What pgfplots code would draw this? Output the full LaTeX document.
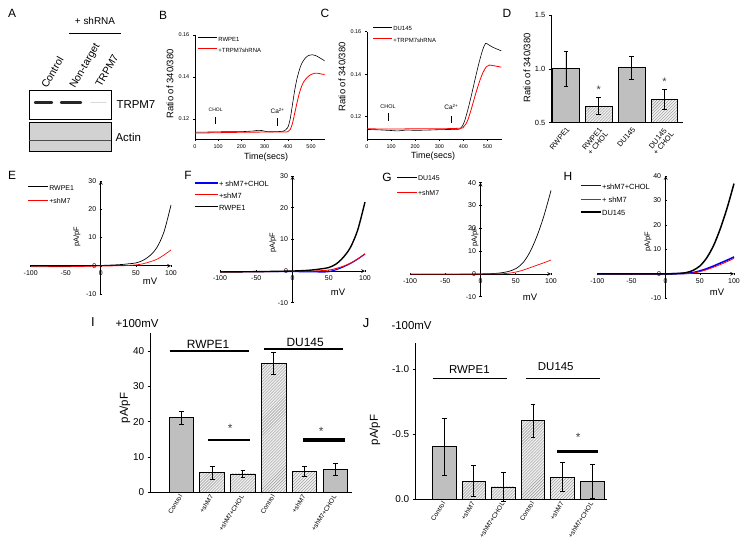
\documentclass[border=0pt]{standalone}
\usepackage{fontspec}
\setmainfont{Liberation Sans}
\usepackage{pgfplots}
\pgfplotsset{compat=1.18}
\usetikzlibrary{patterns}
\newcommand\fs[1]{\fontsize{#1}{#1}\selectfont}
\pgfplotsset{
 base/.style={scale only axis, /pgf/number format/assume math mode=true, tick align=outside,
   major tick length=2.2bp, tick style={black, line width=0.6bp}, axis line style={-, line width=0.7bp},
   clip=false, anchor=south west},
 gp/.style={base, axis lines*=left},
 iv/.style={base, axis lines=middle, hide obscured x ticks=false, hide obscured y ticks=false,
   xmin=-100, xmax=100, xtick={-100,-50,0,50,100}, ymin=-10, tick label style={font=\fs{7}}},
 leg/.style n args={4}{legend style={at={(#1,#2)}, anchor=north west, draw=none, fill=none,
   inner sep=0pt, outer sep=0pt, row sep=#4, font=\fs{#3},
   nodes={inner sep=0.6bp, text height=0.72em, text depth=0pt}}, legend cell align=left},
 limg/.style={legend image code/.code={\draw[##1] (0bp,0bp) -- (#1bp,0bp);}},
 sbar/.style={ybar, bar width=0.8, bar shift=0pt, draw=black, line width=0.8bp, fill=gray!50,
   error bars/y dir=both, error bars/y explicit,
   error bars/error bar style={line width=0.9bp, black},
   error bars/error mark options={rotate=90, mark size=2.4bp, line width=0.9bp, black}},
 hbar/.style={sbar, fill=gray!12, postaction={pattern=north east lines, pattern color=gray!85}},
}
\begin{document}
\begin{tikzpicture}
\useasboundingbox (0,0) rectangle (750bp,-557bp);
\begin{scope}[x=1bp,y=-1bp]
% panel letters
\node[font=\fs{12}] at (12,13) {A};
\node[font=\fs{12}] at (163,15) {B};
\node[font=\fs{12}] at (325,13) {C};
\node[font=\fs{12}] at (507,13) {D};
\node[font=\fs{12}] at (12,175) {E};
\node[font=\fs{12}] at (188,175) {F};
\node[font=\fs{12}] at (387,177) {G};
\node[font=\fs{12}] at (568,176) {H};
\node[font=\fs{13}] at (93,322) {I};
\node[font=\fs{13}] at (366,323) {J};
% panel A (blot)
\node[font=\fs{10}] at (95,21) {+ shRNA};
\draw[line width=0.8bp] (69,33.3) -- (120.7,33.3);
\node[font=\fs{10.5}, rotate=60, anchor=base west, inner sep=0pt] at (47,89) {Control};
\node[font=\fs{10.5}, rotate=60, anchor=base west, inner sep=0pt] at (75,89) {Non-target};
\node[font=\fs{10.5}, rotate=60, anchor=base west, inner sep=0pt] at (101,88) {TRPM7};
\draw[line width=0.9bp, fill=white] (29,90.7) rectangle (111,119);
\draw[line width=2.4bp, line cap=round, black!85] (35,102.5) -- (52,102.5);
\draw[line width=2.4bp, line cap=round, black!85] (61,102.3) -- (81,102.3);
\draw[line width=1.5bp, line cap=round, black!15] (91,102.5) -- (106,102.5);
\draw[line width=0.9bp, fill=gray!35] (29,122.3) rectangle (111,151);
\draw[line width=1.5bp, black!70] (29,140.7) -- (111,140.7);
\node[font=\fs{11.5}, anchor=west] at (113,105) {TRPM7};
\node[font=\fs{11.5}, anchor=west] at (112,137.5) {Actin};
% axis titles
\node[font=\fs{9.5}, rotate=90] at (170,84) {Ratio of 340/380};
\node[font=\fs{9}] at (266,157) {Time(secs)};
\node[font=\fs{9.5}, rotate=90] at (342,77) {Ratio of 340/380};
\node[font=\fs{9}] at (433,156) {Time(secs)};
\node[font=\fs{9.5}, rotate=90] at (527,68) {Ratio of 340/380};
\node[font=\fs{9.5}] at (150,281) {mV};
\node[font=\fs{7.5}, rotate=90] at (77,237) {pA/pF};
\node[font=\fs{9.5}] at (338,292) {mV};
\node[font=\fs{7.5}, rotate=90] at (273,243) {pA/pF};
\node[font=\fs{9.5}] at (530,297) {mV};
\node[font=\fs{7.5}, rotate=90] at (475,237) {pA/pF};
\node[font=\fs{9.5}] at (717,292) {mV};
\node[font=\fs{7.5}, rotate=90] at (648,242) {pA/pF};
\node[font=\fs{11.5}, anchor=west] at (112,324) {+100mV};
\node[font=\fs{11.5}, rotate=90] at (125,408) {pA/pF};
\node[font=\fs{11.5}, anchor=west] at (388,326) {-100mV};
\node[font=\fs{11.5}, rotate=90] at (375,430) {pA/pF};
\end{scope}

% ---------------- B
\begin{axis}[gp, at={(195bp,-139bp)}, width=130bp, height=104bp,
  xmin=0, xmax=560, ymin=0.1105, ymax=0.16, xtick={0,100,200,300,400,500}, ytick={0.12,0.14,0.16},
  yticklabel style={/pgf/number format/.cd, fixed, fixed zerofill, precision=2},
  tick label style={font=\fs{5.5}}, leg={0.023}{1.017}{6}{2.8bp}, limg=19]
\addplot[black, line width=0.6bp, smooth] coordinates {(0,0.1138)(50,0.1138)(100,0.1139)(150,0.114)(200,0.114)(250,0.1143)(270,0.1146)(290,0.1145)(310,0.114)(350,0.114)(380,0.1142)(390,0.1148)(400,0.116)(410,0.12)(420,0.127)(430,0.134)(440,0.1395)(450,0.1435)(460,0.1465)(475,0.149)(490,0.1503)(505,0.1506)(520,0.1502)(535,0.1493)(550,0.1483)(558,0.1477)};
\addlegendentry{RWPE1}
\addplot[red, line width=0.8bp, smooth] coordinates {(0,0.1133)(100,0.1135)(200,0.1137)(300,0.1138)(380,0.1138)(400,0.114)(410,0.115)(420,0.118)(430,0.123)(440,0.128)(450,0.1325)(460,0.1358)(470,0.138)(485,0.14)(500,0.1412)(515,0.1418)(530,0.1418)(545,0.1414)(558,0.1412)};
\addlegendentry{+TRPM7shRNA}
\draw[line width=0.6bp] (axis cs:89,0.1211) -- (axis cs:89,0.1176);
\node[font=\fs{5}] at (axis cs:89,0.1243) {CHOL};
\draw[line width=0.6bp] (axis cs:356,0.1205) -- (axis cs:356,0.1167);
\node[font=\fs{6.5}] at (axis cs:356,0.1238) {Ca\textsuperscript{2+}};
\end{axis}

% ---------------- C
\begin{axis}[gp, at={(367bp,-139bp)}, width=135bp, height=107.3bp,
  xmin=0, xmax=560, ymin=0.1095, ymax=0.16, xtick={0,100,200,300,400,500}, ytick={0.12,0.14,0.16},
  yticklabel style={/pgf/number format/.cd, fixed, fixed zerofill, precision=2},
  tick label style={font=\fs{5.5}}, leg={0.044}{1.079}{6}{2.8bp}, limg=19]
\addplot[black, line width=0.6bp, smooth] coordinates {(0,0.114)(50,0.1138)(100,0.1135)(130,0.1133)(160,0.1137)(200,0.1136)(250,0.1137)(300,0.1139)(350,0.114)(385,0.1142)(395,0.1155)(405,0.118)(420,0.124)(435,0.131)(450,0.1385)(465,0.1455)(480,0.1515)(492,0.1545)(505,0.1538)(520,0.1528)(540,0.1518)(557,0.151)};
\addlegendentry{DU145}
\addplot[red, line width=0.8bp, smooth] coordinates {(0,0.1143)(100,0.1142)(200,0.1143)(300,0.1143)(390,0.1146)(400,0.1152)(410,0.1165)(420,0.119)(435,0.1245)(450,0.1305)(465,0.136)(480,0.1405)(495,0.1435)(508,0.1443)(520,0.1441)(540,0.1437)(557,0.1433)};
\addlegendentry{+TRPM7shRNA}
\draw[line width=0.6bp] (axis cs:87.5,0.1217) -- (axis cs:87.5,0.118);
\node[font=\fs{5.5}] at (axis cs:87.5,0.1247) {CHOL};
\draw[line width=0.6bp] (axis cs:350,0.1203) -- (axis cs:350,0.117);
\node[font=\fs{6.5}] at (axis cs:350,0.1245) {Ca\textsuperscript{2+}};
\end{axis}

% ---------------- D
\begin{axis}[gp, clip=true, at={(551bp,-122.7bp)}, width=132bp, height=107.7bp,
  xmin=-0.457, xmax=3.567, ymin=0.5, ymax=1.5, ytick={0.5,1.0,1.5},
  yticklabel style={/pgf/number format/.cd, fixed, fixed zerofill, precision=1},
  tick label style={font=\fs{7.5}}, xtick={0,1,2,3},
  xticklabels={RWPE1,{RWPE1\\+ CHOL},DU145,{DU145\\+ CHOL}},
  xticklabel style={rotate=50, anchor=north east, align=center, font=\fs{7.5}, inner sep=1bp},
  xtick style={draw=none}]
\addplot[sbar, bar width=0.82] coordinates {(0,1.0) +- (0,0.16)};
\addplot[hbar, bar width=0.82] coordinates {(1,0.655) +- (0,0.075)};
\addplot[sbar, bar width=0.82] coordinates {(2,1.01) +- (0,0.105)};
\addplot[hbar, bar width=0.82] coordinates {(3,0.715) +- (0,0.09)};
\node[font=\fs{11}, text=black!75] at (axis cs:1,0.81) {*};
\node[font=\fs{11}, text=black!75] at (axis cs:3,0.88) {*};
\end{axis}

% ---------------- E
\begin{axis}[iv, at={(30.7bp,-294bp)}, width=140.3bp, height=113bp, ymax=30, ytick={-10,0,10,20,30},
  leg={-0.019}{0.988}{7}{5bp}, limg=20]
\addplot[black, line width=0.7bp, smooth] coordinates {(-100,-0.3)(-75,-0.3)(-50,-0.25)(-25,-0.15)(0,0.1)(20,0.3)(30,0.45)(40,0.7)(50,1.0)(60,1.9)(70,3.6)(80,6.5)(90,12)(100,21.5)};
\addlegendentry{RWPE1}
\addplot[red, line width=0.7bp, smooth] coordinates {(-100,-0.4)(-50,-0.35)(0,-0.1)(30,0.0)(50,0.3)(60,0.7)(70,1.4)(80,2.3)(90,3.8)(100,5.6)};
\addlegendentry{+shM7}
\end{axis}

% ---------------- F
\begin{axis}[iv, at={(220bp,-302.7bp)}, width=145bp, height=126.7bp, ymax=30, ytick={-10,0,10,20,30},
  leg={-0.179}{0.978}{7.5}{3.4bp}, limg=23]
\addplot[blue, line width=1.1bp, smooth] coordinates {(-100,-0.2)(0,-0.2)(40,-0.3)(50,-0.2)(60,0.4)(70,1.3)(80,2.4)(90,3.8)(100,5.4)};
\addlegendentry{+ shM7+CHOL}
\addplot[red, line width=0.9bp, smooth] coordinates {(-100,-0.3)(0,-0.1)(30,0)(50,0.3)(60,0.8)(70,1.5)(80,2.5)(90,3.8)(100,5.4)};
\addlegendentry{+shM7}
\addplot[black, line width=1.4bp, smooth] coordinates {(-100,-0.3)(-50,-0.2)(0,0)(20,0.2)(30,0.4)(40,0.7)(50,1.1)(60,2.2)(70,4.3)(80,7.5)(90,13)(100,21.8)};
\addlegendentry{RWPE1}
\end{axis}

% ---------------- G
\begin{axis}[iv, at={(410bp,-296.7bp)}, width=141bp, height=114bp, ymax=40, ytick={-10,0,10,20,30,40},
  leg={-0.094}{1.085}{7}{6.5bp}, limg=20]
\addplot[black, line width=0.7bp, smooth] coordinates {(-100,-0.3)(-50,-0.3)(0,0)(20,0.2)(30,0.5)(40,1.1)(50,2.3)(60,4.8)(70,9.5)(80,16.5)(90,25.5)(100,36.6)};
\addlegendentry{DU145}
\addplot[red, line width=0.7bp, smooth] coordinates {(-100,0)(0,0)(30,0.1)(40,0.3)(50,0.8)(60,1.6)(70,2.7)(80,3.8)(90,4.9)(100,6.1)};
\addlegendentry{+shM7}
\end{axis}

% ---------------- H
\begin{axis}[iv, at={(597.3bp,-298.3bp)}, width=136.7bp, height=122.3bp, ymax=40, ytick={-10,0,10,20,30,40},
  leg={-0.127}{0.955}{7.5}{4.9bp}, limg=20]
\addplot[blue, line width=1.6bp, smooth] coordinates {(-100,0)(0,0)(30,0.2)(40,0.5)(50,1.2)(60,2.1)(70,3.2)(80,4.4)(90,5.6)(100,6.9)};
\addlegendentry{+shM7+CHOL}
\addplot[red, line width=0.8bp, smooth] coordinates {(-100,0)(0,0)(30,0.1)(40,0.3)(50,0.9)(60,1.7)(70,2.7)(80,3.8)(90,5.0)(100,6.3)};
\addlegendentry{+ shM7}
\addplot[black, line width=1.5bp, smooth] coordinates {(-100,0)(0,0)(20,0.2)(30,0.5)(40,1.4)(50,3.2)(60,6.5)(70,11.5)(80,18.5)(90,27)(100,36.9)};
\addlegendentry{DU145}
\end{axis}

% ---------------- I
\begin{axis}[gp, at={(150bp,-492.3bp)}, width=201.7bp, height=159bp,
  xmin=-1.016, xmax=5.53, ymin=0, ymax=45, ytick={0,10,20,30,40}, xtick={0,1,2,3,4,5},
  xticklabels={Control,+shM7,+shM7+CHOL,Control,+shM7,+shM7+CHOL},
  xticklabel style={rotate=58, anchor=east, font=\fs{6.5}, inner sep=1bp},
  yticklabel style={font=\fs{10}}, xtick style={draw=none}, axis line style={line width=0.9bp}]
\addplot[sbar] coordinates {(0,21.1) +- (0,1.8)};
\addplot[hbar] coordinates {(1,5.5) +- (0,1.8)};
\addplot[hbar] coordinates {(2,5.2) +- (0,1.0)};
\addplot[hbar] coordinates {(3,36.5) +- (0,3.1)};
\addplot[hbar] coordinates {(4,5.8) +- (0,1.4)};
\addplot[sbar] coordinates {(5,6.5) +- (0,1.6)};
\addplot[black, line width=2bp] coordinates {(-0.37,40) (2.21,40)};
\addplot[black, line width=2bp] coordinates {(2.68,40.5) (5.26,40.5)};
\addplot[black, line width=2bp] coordinates {(0.88,14.8) (2.24,14.8)};
\addplot[black, line width=3.5bp] coordinates {(3.96,14.8) (5.31,14.8)};
\node[font=\fs{12}] at (axis cs:0.87,41.9) {RWPE1};
\node[font=\fs{12}] at (axis cs:4.02,42.5) {DU145};
\node[font=\fs{12}, text=black!75] at (axis cs:1.59,18) {*};
\node[font=\fs{12}, text=black!75] at (axis cs:4.54,17.3) {*};
\end{axis}

% ---------------- J
\begin{axis}[gp, at={(415bp,-499.3bp)}, width=191.7bp, height=156.6bp,
  xmin=-0.986, xmax=5.49, ymin=0, ymax=1.2046, ytick={0,0.5,1}, yticklabels={0.0,-0.5,-1.0},
  xtick={0,1,2,3,4,5},
  xticklabels={Control,+shM7,+shM7+CHOL,Control,+shM7,+shM7+CHOL},
  xticklabel style={rotate=58, anchor=east, font=\fs{6.5}, inner sep=1bp},
  yticklabel style={font=\fs{10}}, xtick style={draw=none}, axis line style={line width=0.9bp}]
\addplot[sbar] coordinates {(0,0.405) +- (0,0.22)};
\addplot[hbar] coordinates {(1,0.14) +- (0,0.12)};
\addplot[hbar] coordinates {(2,0.095) +- (0,0.115)};
\addplot[hbar] coordinates {(3,0.605) +- (0,0.127)};
\addplot[hbar] coordinates {(4,0.17) +- (0,0.113)};
\addplot[sbar] coordinates {(5,0.14) +- (0,0.13)};
\addplot[black, line width=1bp] coordinates {(-0.39,0.93) (2.11,0.93)};
\addplot[black, line width=1bp] coordinates {(2.75,0.93) (5.26,0.93)};
\addplot[black, line width=3.5bp] coordinates {(3.82,0.366) (5.21,0.366)};
\node[font=\fs{11.5}] at (axis cs:0.85,1.0) {RWPE1};
\node[font=\fs{11.5}] at (axis cs:3.77,1.02) {DU145};
\node[font=\fs{12}, text=black!75] at (axis cs:4.53,0.48) {*};
\end{axis}
\end{tikzpicture}
\end{document}
